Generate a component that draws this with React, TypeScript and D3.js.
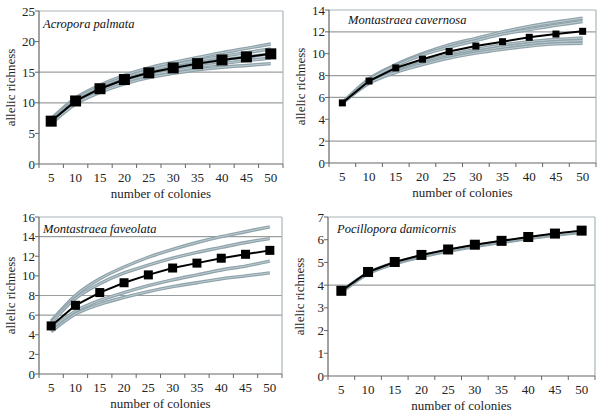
import React from "react";
import * as d3 from "d3";

const categories = [5, 10, 15, 20, 25, 30, 35, 40, 45, 50];

const titles = ["Acropora palmata", "Montastraea cavernosa", "Montastraea faveolata", "Pocillopora damicornis"];
const yMaxes = [25, 14, 16, 7];
const yTickSteps = [5, 2, 2, 1];
const gridValues = [[10, 15], [2, 6, 8, 12], [6, 8, 14], [4]];

const meanPalmata = [7.0, 10.3, 12.3, 13.8, 14.9, 15.7, 16.4, 17.0, 17.5, 18.0];
const meanCavernosa = [5.5, 7.5, 8.7, 9.5, 10.2, 10.7, 11.1, 11.5, 11.8, 12.05];
const meanFaveolata = [4.9, 7.0, 8.3, 9.3, 10.1, 10.8, 11.3, 11.8, 12.2, 12.6];
const meanDamicornis = [3.75, 4.58, 5.02, 5.33, 5.57, 5.78, 5.95, 6.12, 6.27, 6.4];

const curvesPalmata = [
  [7.4, 10.8, 12.9, 14.5, 15.7, 16.6, 17.4, 18.2, 18.9, 19.6],
  [7.2, 10.6, 12.6, 14.1, 15.3, 16.2, 16.9, 17.6, 18.2, 18.8],
  [7.0, 10.3, 12.3, 13.8, 14.9, 15.7, 16.4, 17.0, 17.5, 18.0],
  [6.8, 10.0, 12.0, 13.4, 14.5, 15.2, 15.9, 16.4, 16.9, 17.3],
  [6.6, 9.8, 11.7, 13.1, 14.1, 14.8, 15.4, 15.8, 16.1, 16.4],
];
const curvesCavernosa = [
  [5.5, 7.7, 9.0, 10.0, 10.8, 11.4, 12.0, 12.5, 12.9, 13.25],
  [5.5, 7.6, 8.9, 9.9, 10.6, 11.2, 11.8, 12.2, 12.6, 12.95],
  [5.5, 7.4, 8.5, 9.3, 9.9, 10.4, 10.8, 11.1, 11.3, 11.45],
  [5.5, 7.35, 8.4, 9.15, 9.75, 10.2, 10.6, 10.9, 11.1, 11.2],
  [5.5, 7.3, 8.3, 9.0, 9.6, 10.05, 10.4, 10.7, 10.9, 10.95],
];
const curvesFaveolata = [
  [5.4, 8.0, 9.7, 10.9, 11.9, 12.7, 13.4, 14.0, 14.5, 15.0],
  [5.2, 7.7, 9.2, 10.3, 11.1, 11.8, 12.4, 12.9, 13.4, 13.8],
  [4.6, 6.4, 7.5, 8.3, 9.0, 9.6, 10.1, 10.6, 11.0, 11.5],
  [4.3, 6.1, 7.1, 7.8, 8.4, 8.9, 9.3, 9.7, 10.0, 10.3],
];
const curvesDamicornis = [
  [3.68, 4.5, 4.94, 5.25, 5.49, 5.7, 5.88, 6.05, 6.2, 6.33],
  [3.72, 4.54, 4.98, 5.29, 5.53, 5.74, 5.91, 6.08, 6.23, 6.36],
];

const means = [meanPalmata, meanCavernosa, meanFaveolata, meanDamicornis];
const curves = [curvesPalmata, curvesCavernosa, curvesFaveolata, curvesDamicornis];

const boxes = [
  { left: 39, right: 283, top: 11, bottom: 164 },
  { left: 329, right: 596, top: 10, bottom: 163 },
  { left: 39, right: 282, top: 217, bottom: 374 },
  { left: 328, right: 595, top: 217, bottom: 376 },
];
const markerSizes = [11, 7, 9, 10];
const titleOffsets = [
  { dx: 4, dy: 17 },
  { dx: 19, dy: 14 },
  { dx: 4, dy: 16 },
  { dx: 9, dy: 16 },
];

const fontStyle: React.CSSProperties = {
  fontFamily: "Liberation Serif, Times New Roman, DejaVu Serif, serif",
};

function Panel({ i }: { i: number }) {
  const b = boxes[i];
  const x = d3.scaleBand<number>().domain(categories).range([b.left, b.right]);
  const y = d3.scaleLinear().domain([0, yMaxes[i]]).range([b.bottom, b.top]);
  const cx = (c: number) => (x(c) as number) + x.bandwidth() / 2;
  const yTicks = d3.range(0, yMaxes[i] + 0.001, yTickSteps[i]);
  const smooth = d3
    .line<number>()
    .x((_, k) => cx(categories[k]))
    .y((v) => y(v))
    .curve(d3.curveMonotoneX);
  const straight = d3
    .line<number>()
    .x((_, k) => cx(categories[k]))
    .y((v) => y(v));
  const ms = markerSizes[i];
  const midY = (b.top + b.bottom) / 2;
  return (
    <g style={fontStyle}>
      {gridValues[i].map((g) => (
        <line key={g} x1={b.left} x2={b.right} y1={y(g)} y2={y(g)} stroke="#9a9e9f" strokeWidth={1.2} />
      ))}
      <line x1={b.left} x2={b.right} y1={b.top} y2={b.top} stroke="#a9b6ba" strokeWidth={1.2} />
      <line x1={b.right} x2={b.right} y1={b.top} y2={b.bottom} stroke="#a9b6ba" strokeWidth={1.2} />
      {curves[i].map((c, k) => (
        <g key={k}>
          <path d={smooth(c) || ""} fill="none" stroke="#8fa3aa" strokeWidth={3.4} />
          <path d={smooth(c) || ""} fill="none" stroke="#c9d6da" strokeWidth={0.8} />
        </g>
      ))}
      <path d={straight(means[i]) || ""} fill="none" stroke="#000" strokeWidth={2} />
      {means[i].map((v, k) => (
        <rect
          key={k}
          x={cx(categories[k]) - ms / 2}
          y={y(v) - ms / 2}
          width={ms}
          height={ms}
          fill="#000"
        />
      ))}
      <line x1={b.left} x2={b.left} y1={b.top} y2={b.bottom} stroke="#666" strokeWidth={1.2} />
      <line x1={b.left} x2={b.right} y1={b.bottom} y2={b.bottom} stroke="#666" strokeWidth={1.2} />
      {yTicks.map((t) => (
        <g key={t}>
          <line x1={b.left - 4} x2={b.left} y1={y(t)} y2={y(t)} stroke="#666" />
          <text x={b.left - 4} y={y(t) + 4.5} textAnchor="end" fontSize={13} fill="#222">
            {t}
          </text>
        </g>
      ))}
      {d3.range(0, categories.length + 1).map((k) => (
        <line
          key={k}
          x1={b.left + k * x.step()}
          x2={b.left + k * x.step()}
          y1={b.bottom}
          y2={b.bottom + 4}
          stroke="#666"
        />
      ))}
      {categories.map((c) => (
        <text key={c} x={cx(c)} y={b.bottom + 18} textAnchor="middle" fontSize={13} fill="#222">
          {c}
        </text>
      ))}
      <text x={(b.left + b.right) / 2} y={b.bottom + 34} textAnchor="middle" fontSize={13} fill="#222">
        number of colonies
      </text>
      <text
        transform={`translate(${b.left - 24},${midY}) rotate(-90)`}
        textAnchor="middle"
        fontSize={13}
        fill="#222"
      >
        allelic richness
      </text>
      <text
        x={b.left + titleOffsets[i].dx}
        y={b.top + titleOffsets[i].dy}
        fontSize={12.5}
        fontStyle="italic"
        fill="#111"
      >
        {titles[i]}
      </text>
    </g>
  );
}

export default function App() {
  return (
    <svg
      width={602}
      height={413}
      style={{ position: "absolute", left: 0, top: 0, background: "#fff" }}
    >
      <rect width={602} height={413} fill="#fff" />
      {[0, 1, 2, 3].map((i) => (
        <Panel key={i} i={i} />
      ))}
    </svg>
  );
}
